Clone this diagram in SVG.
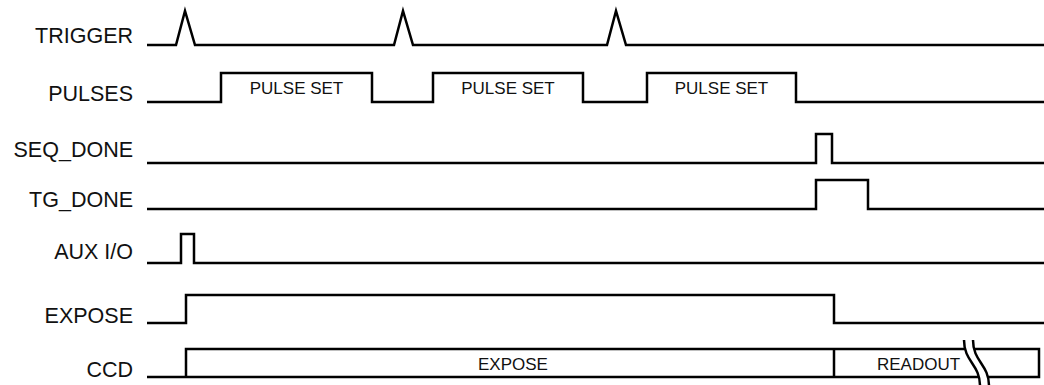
<svg xmlns="http://www.w3.org/2000/svg" width="1044" height="385" viewBox="0 0 1044 385">
<style>
.lbl{font-family:"Liberation Sans",Arial,sans-serif;font-size:21.5px;fill:#111;text-anchor:end}
.in{font-family:"Liberation Sans",Arial,sans-serif;font-size:17px;fill:#111;text-anchor:middle}
.sig{fill:none;stroke:#000;stroke-width:2.5;stroke-linejoin:miter}
</style>
<rect width="1044" height="385" fill="#fff"/>
<g id="labels">
<text class="lbl" x="133" y="43">TRIGGER</text>
<text class="lbl" x="133" y="101">PULSES</text>
<text class="lbl" x="133" y="157">SEQ_DONE</text>
<text class="lbl" x="133" y="207">TG_DONE</text>
<text class="lbl" x="133" y="259">AUX I/O</text>
<text class="lbl" x="133" y="323">EXPOSE</text>
<text class="lbl" x="133" y="377">CCD</text>
</g>
<g id="connectors">
<path id="trigger" class="sig" d="M147,45 H176 L185,11 L195,45 H394 L403,11 L413,45 H607 L616,11 L626,45 H1044"/>
<path id="pulses" class="sig" d="M147,102 H221 V73 H372 V102 H433 V73 H583 V102 H647 V73 H796 V102 H1044"/>
<path id="seq_done" class="sig" d="M147,163 H816 V134 H832 V163 H1044"/>
<path id="tg_done" class="sig" d="M147,209 H816 V180 H868 V209 H1044"/>
<path id="aux" class="sig" d="M147,263 H181 V234 H194 V263 H1044"/>
<path id="expose" class="sig" d="M147,323 H186 V295 H834 V323 H1044"/>
<path id="ccd" class="sig" d="M147,377 H186 V349 H1039 V377 H186 M834,349 V377"/>
</g>
<g id="pulse-sets">
<text class="in" x="296.5" y="94">PULSE SET</text>
<text class="in" x="508" y="94">PULSE SET</text>
<text class="in" x="721.5" y="94">PULSE SET</text>
</g>
<g id="ccd-labels">
<text class="in" x="513" y="370">EXPOSE</text>
<text class="in" x="918.5" y="370">READOUT</text>
</g>
<g id="break">
<path d="M964,340 C964,362 980,364 980,386 H989 C989,364 973,362 973,340 Z" fill="#fff" stroke="none"/>
<path class="sig" d="M964,340 C964,362 980,364 980,386"/>
<path class="sig" d="M973,340 C973,362 989,364 989,386"/>
</g>
</svg>
